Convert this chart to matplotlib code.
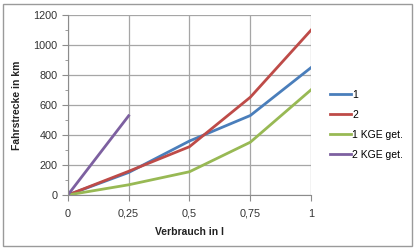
import matplotlib
matplotlib.use("Agg")
import matplotlib.pyplot as plt
from matplotlib.patches import Rectangle
from matplotlib.ticker import MultipleLocator

plt.rcParams['font.family'] = ['Liberation Sans', 'DejaVu Sans']

x = [0, 0.25, 0.5, 0.75, 1]
x_tick_labels = ['0', '0,25', '0,5', '0,75', '1']
s1 = [0, 150, 360, 530, 850]
s2 = [0, 158, 322, 652, 1100]
kge1 = [0, 68, 155, 352, 702]
x_kge2 = [0, 0.25]
kge2 = [0, 528]

fig = plt.figure(figsize=(4.16, 2.5), dpi=100)
fig.patches.append(Rectangle((0.008, 0.015), 0.982, 0.97, transform=fig.transFigure,
                             fill=False, edgecolor='#9a9a9a', lw=1.0))
ax = fig.add_axes([0.163, 0.22, 0.585, 0.72])

lw = 2.0
ax.plot(x, s1, color='#4a7ebb', lw=lw, label='1')
ax.plot(x, s2, color='#be4b48', lw=lw, label='2')
ax.plot(x, kge1, color='#98b954', lw=lw, label='1 KGE get.')
ax.plot(x_kge2, kge2, color='#7d60a0', lw=lw, label='2 KGE get.')

ax.set_xlim(0, 1)
ax.set_ylim(0, 1200)
ax.set_xticks(x)
ax.set_xticklabels(x_tick_labels)
ax.yaxis.set_major_locator(MultipleLocator(200))
ax.yaxis.set_minor_locator(MultipleLocator(100))
ax.grid(True, color='#a6a6a6', lw=0.9)
ax.set_axisbelow(True)
for side in ['top', 'right']:
    ax.spines[side].set_visible(False)
for side in ['left', 'bottom']:
    ax.spines[side].set_color('#8c8c8c')
ax.tick_params(which='both', direction='out', colors='#8c8c8c', labelcolor='#333333',
               labelsize=7.8)
ax.tick_params(which='major', length=4)
ax.tick_params(which='minor', length=2.5)
ax.tick_params(axis='x', pad=6)

ax.set_xlabel('Verbrauch in l', fontsize=7.5, fontweight='bold', color='#222222', labelpad=6)
ax.set_ylabel('Fahrstrecke in km', fontsize=7.5, fontweight='bold', color='#222222', labelpad=8)

ax.legend(loc='center left', bbox_to_anchor=(1.04, 0.39), frameon=False, fontsize=7.5,
          handlelength=2.0, handletextpad=0.1, labelspacing=0.95)

fig.savefig('out.png', dpi=100)
